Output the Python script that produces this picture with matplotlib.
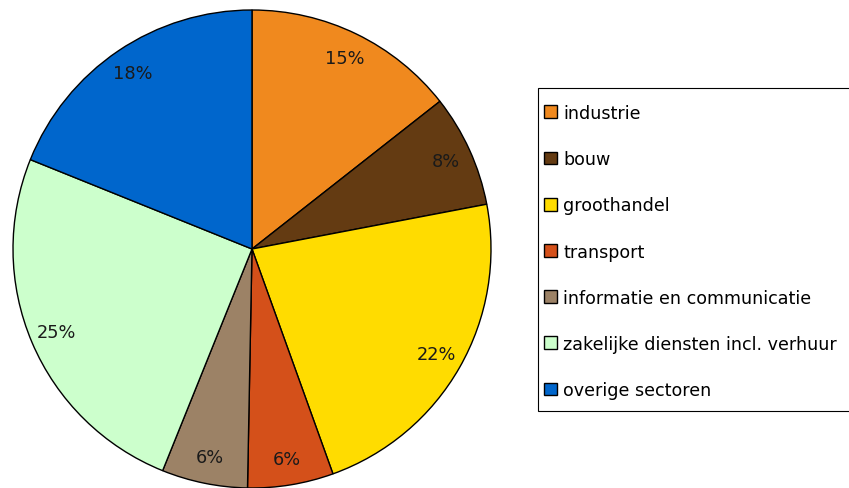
import matplotlib
matplotlib.use("Agg")
import matplotlib.pyplot as plt
from matplotlib.patches import Rectangle

categories = ["industrie", "bouw", "groothandel", "transport",
              "informatie en communicatie", "zakelijke diensten incl. verhuur",
              "overige sectoren"]
values = [14.4, 7.6, 22.5, 5.8, 5.8, 25.0, 18.9]
labels = ["15%", "8%", "22%", "6%", "6%", "25%", "18%"]
colors = ["#F0891E", "#643B12", "#FFDC00", "#D4501A", "#9C8266", "#CCFFCC", "#0066CC"]

plt.rcParams['font.family'] = ['DejaVu Sans']

W, H = 849, 489
fig = plt.figure(figsize=(W / 100, H / 100), dpi=100)
ax = fig.add_axes([13 / W, 0 / H, 478 / W, 478 / H])
wedges, texts = ax.pie(values, colors=colors, startangle=90, counterclock=False,
                       labels=labels, labeldistance=0.89,
                       wedgeprops=dict(edgecolor="black", linewidth=1.0),
                       textprops=dict(fontsize=12.8, color="#1a1a1a"))
for t in texts:
    t.set_horizontalalignment("center")
    t.set_verticalalignment("center")
ax.set_xlim(-1, 1)
ax.set_ylim(-1, 1)
ax.set_aspect("equal")
ax.axis("off")

# legend frame
frame = Rectangle((538 / W, 1 - 412 / H), 320 / W, (412 - 89) / H,
                  transform=fig.transFigure, facecolor="white",
                  edgecolor="black", linewidth=0.8, zorder=0)
fig.patches.append(frame)

leg = fig.legend(wedges, categories, loc="upper left",
                 bbox_to_anchor=(544 / W, 1 - 105 / H), bbox_transform=fig.transFigure,
                 fontsize=12.6, frameon=False,
                 handlelength=0.75, handleheight=0.75, handletextpad=0.35,
                 labelspacing=1.61, borderpad=0, borderaxespad=0)
for h in leg.legend_handles:
    h.set_linewidth(1.0)

fig.savefig("out.png", dpi=100)
